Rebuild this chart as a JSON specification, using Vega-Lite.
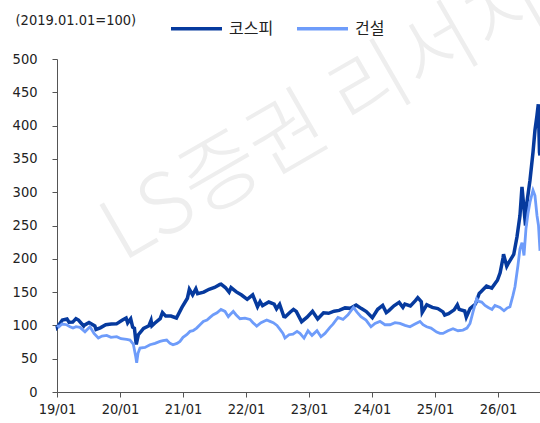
{
  "$schema": "https://vega.github.io/schema/vega-lite/v6.json",
  "width": 483,
  "height": 333,
  "autosize": {"type": "none"},
  "padding": {"left": 57, "top": 59, "right": 0, "bottom": 31},
  "config": {
    "view": {"stroke": null},
    "font": "DejaVu Sans Condensed, Liberation Sans",
    "axis": {"grid": false, "tickSize": 5, "labelFontSize": 14.5, "labelFlush": false, "labelOverlap": false, "domainColor": "#555555", "tickColor": "#555555", "labelColor": "#222222"}
  },
  "datasets": {
    "kospi": [
      {"t":2019.000,"v":100},{"t":2019.005,"v":97.7},{"t":2019.085,"v":108.0},{"t":2019.159,"v":109.5},{"t":2019.191,"v":104.7},
      {"t":2019.250,"v":104.9},{"t":2019.301,"v":110.1},{"t":2019.341,"v":108.0},{"t":2019.423,"v":99.1},{"t":2019.429,"v":100.0},
      {"t":2019.508,"v":104.4},{"t":2019.601,"v":99.2},{"t":2019.619,"v":93.9},{"t":2019.687,"v":96.4},{"t":2019.774,"v":101.1},
      {"t":2019.862,"v":102.1},{"t":2019.945,"v":102.3},{"t":2020.033,"v":107.7},{"t":2020.097,"v":111.1},{"t":2020.122,"v":103.8},
      {"t":2020.170,"v":109.9},{"t":2020.201,"v":97.4},{"t":2020.229,"v":95.8},{"t":2020.258,"v":71.4},{"t":2020.292,"v":86.0},
      {"t":2020.374,"v":95.4},{"t":2020.459,"v":99.5},{"t":2020.493,"v":107.5},{"t":2020.507,"v":99.5},{"t":2020.550,"v":103.3},
      {"t":2020.638,"v":110.2},{"t":2020.674,"v":119.4},{"t":2020.726,"v":114.0},{"t":2020.808,"v":114.0},{"t":2020.896,"v":111.1},
      {"t":2020.983,"v":127.0},{"t":2021.070,"v":140.8},{"t":2021.101,"v":154.2},{"t":2021.153,"v":145.8},{"t":2021.204,"v":155.0},
      {"t":2021.232,"v":147.6},{"t":2021.329,"v":150.0},{"t":2021.414,"v":154.2},{"t":2021.501,"v":157.0},{"t":2021.586,"v":161.5},
      {"t":2021.604,"v":161.9},{"t":2021.672,"v":156.9},{"t":2021.732,"v":149.9},{"t":2021.763,"v":156.7},{"t":2021.847,"v":150.3},
      {"t":2021.930,"v":145.6},{"t":2022.019,"v":139.1},{"t":2022.106,"v":145.9},{"t":2022.183,"v":128.1},{"t":2022.224,"v":135.8},
      {"t":2022.263,"v":129.7},{"t":2022.362,"v":135.1},{"t":2022.447,"v":132.0},{"t":2022.485,"v":124.9},{"t":2022.534,"v":131.6},
      {"t":2022.601,"v":113.4},{"t":2022.624,"v":112.9},{"t":2022.704,"v":120.1},{"t":2022.754,"v":124.1},{"t":2022.798,"v":121.1},
      {"t":2022.883,"v":105.6},{"t":2022.970,"v":112.3},{"t":2023.056,"v":121.1},{"t":2023.138,"v":109.6},{"t":2023.231,"v":118.8},
      {"t":2023.311,"v":118.2},{"t":2023.399,"v":121.4},{"t":2023.479,"v":122.5},{"t":2023.572,"v":126.3},{"t":2023.657,"v":125.6},
      {"t":2023.748,"v":130.7},{"t":2023.833,"v":125.2},{"t":2023.910,"v":120.8},{"t":2024.006,"v":111.6},{"t":2024.091,"v":124.2},
      {"t":2024.170,"v":130.1},{"t":2024.227,"v":119.4},{"t":2024.268,"v":122.3},{"t":2024.349,"v":129.4},{"t":2024.431,"v":134.6},
      {"t":2024.491,"v":127.0},{"t":2024.522,"v":131.9},{"t":2024.610,"v":129.2},{"t":2024.689,"v":137.1},{"t":2024.727,"v":141.6},
      {"t":2024.783,"v":135.7},{"t":2024.797,"v":119.6},{"t":2024.869,"v":131.0},{"t":2024.957,"v":127.0},{"t":2025.045,"v":125.2},
      {"t":2025.127,"v":120.3},{"t":2025.155,"v":115.6},{"t":2025.215,"v":117.5},{"t":2025.304,"v":123.3},{"t":2025.355,"v":130.9},
      {"t":2025.384,"v":124.1},{"t":2025.472,"v":121.6},{"t":2025.497,"v":112.3},{"t":2025.557,"v":125.2},{"t":2025.642,"v":132.1},
      {"t":2025.702,"v":148.0},{"t":2025.730,"v":150.5},{"t":2025.818,"v":159.0},{"t":2025.901,"v":156.1},{"t":2025.991,"v":167.8},
      {"t":2026.034,"v":179},{"t":2026.080,"v":201.2},{"t":2026.088,"v":206.8},{"t":2026.139,"v":188.8},{"t":2026.159,"v":192.4},
      {"t":2026.250,"v":206.5},{"t":2026.302,"v":233},{"t":2026.349,"v":265},{"t":2026.381,"v":308},{"t":2026.413,"v":275},
      {"t":2026.437,"v":250},{"t":2026.460,"v":285},{"t":2026.508,"v":318},{"t":2026.556,"v":360},{"t":2026.587,"v":393},
      {"t":2026.619,"v":415},{"t":2026.640,"v":432},{"t":2026.651,"v":390},{"t":2026.659,"v":360},{"t":2026.667,"v":355}
    ],
    "construction": [
      {"t":2019.000,"v":100},{"t":2019.032,"v":98},{"t":2019.079,"v":102},{"t":2019.154,"v":101},{"t":2019.206,"v":98},
      {"t":2019.254,"v":96},{"t":2019.302,"v":98},{"t":2019.365,"v":97},{"t":2019.444,"v":90.5},{"t":2019.492,"v":95},
      {"t":2019.524,"v":98},{"t":2019.587,"v":88},{"t":2019.656,"v":81},{"t":2019.714,"v":84},{"t":2019.789,"v":85},
      {"t":2019.857,"v":82},{"t":2019.948,"v":83},{"t":2020.016,"v":80},{"t":2020.106,"v":79},{"t":2020.159,"v":78},
      {"t":2020.211,"v":72},{"t":2020.246,"v":55},{"t":2020.265,"v":44},{"t":2020.286,"v":58},{"t":2020.317,"v":66},
      {"t":2020.397,"v":67},{"t":2020.476,"v":71},{"t":2020.556,"v":73},{"t":2020.635,"v":76},{"t":2020.683,"v":77},
      {"t":2020.741,"v":78},{"t":2020.794,"v":73},{"t":2020.841,"v":71},{"t":2020.905,"v":73},{"t":2020.952,"v":76},
      {"t":2021.000,"v":82},{"t":2021.059,"v":86},{"t":2021.111,"v":91},{"t":2021.159,"v":92},{"t":2021.217,"v":96},
      {"t":2021.270,"v":101},{"t":2021.322,"v":106},{"t":2021.381,"v":108},{"t":2021.429,"v":112},{"t":2021.481,"v":116},
      {"t":2021.540,"v":119},{"t":2021.603,"v":124},{"t":2021.667,"v":121},{"t":2021.719,"v":113},{"t":2021.746,"v":116},
      {"t":2021.798,"v":121},{"t":2021.841,"v":116},{"t":2021.905,"v":110},{"t":2021.984,"v":111},{"t":2022.063,"v":109},
      {"t":2022.111,"v":104},{"t":2022.170,"v":99},{"t":2022.238,"v":104},{"t":2022.329,"v":108},{"t":2022.381,"v":106},
      {"t":2022.433,"v":104},{"t":2022.492,"v":100},{"t":2022.540,"v":94},{"t":2022.587,"v":88},{"t":2022.619,"v":81},
      {"t":2022.683,"v":86},{"t":2022.746,"v":87},{"t":2022.810,"v":91},{"t":2022.857,"v":88},{"t":2022.921,"v":81},
      {"t":2022.984,"v":92},{"t":2023.048,"v":85},{"t":2023.127,"v":92},{"t":2023.190,"v":83},{"t":2023.254,"v":88},
      {"t":2023.333,"v":97},{"t":2023.381,"v":102},{"t":2023.460,"v":112},{"t":2023.540,"v":109},{"t":2023.619,"v":116},
      {"t":2023.706,"v":127},{"t":2023.762,"v":120},{"t":2023.825,"v":113},{"t":2023.905,"v":108},{"t":2023.984,"v":98},
      {"t":2024.048,"v":103},{"t":2024.127,"v":106},{"t":2024.206,"v":101},{"t":2024.286,"v":101},{"t":2024.365,"v":104},
      {"t":2024.444,"v":103},{"t":2024.524,"v":100},{"t":2024.603,"v":98},{"t":2024.683,"v":102},{"t":2024.762,"v":106},
      {"t":2024.810,"v":101},{"t":2024.868,"v":98},{"t":2024.937,"v":96},{"t":2025.027,"v":90},{"t":2025.079,"v":88},
      {"t":2025.127,"v":88},{"t":2025.206,"v":92},{"t":2025.286,"v":95},{"t":2025.365,"v":92},{"t":2025.444,"v":93},
      {"t":2025.508,"v":96},{"t":2025.556,"v":103},{"t":2025.603,"v":120},{"t":2025.662,"v":140},{"t":2025.698,"v":136},
      {"t":2025.741,"v":135},{"t":2025.794,"v":130},{"t":2025.846,"v":127},{"t":2025.905,"v":124},{"t":2025.952,"v":130},
      {"t":2026.032,"v":127},{"t":2026.095,"v":122},{"t":2026.143,"v":126},{"t":2026.190,"v":128},{"t":2026.238,"v":145},
      {"t":2026.270,"v":158},{"t":2026.317,"v":190},{"t":2026.349,"v":215},{"t":2026.381,"v":224},{"t":2026.413,"v":205},
      {"t":2026.444,"v":245},{"t":2026.476,"v":268},{"t":2026.508,"v":285},{"t":2026.556,"v":303},{"t":2026.587,"v":295},
      {"t":2026.619,"v":265},{"t":2026.643,"v":250},{"t":2026.667,"v":212}
    ],
    "watermark": [{"label": "LS증권 리서치"}]
  },
  "layer": [
    {
      "data": {"name": "watermark"},
      "mark": {"type": "text", "angle": -30, "fontSize": 84, "font": "Noto Sans CJK KR", "fontWeight": 300, "color": "#eeeeee", "align": "center", "baseline": "middle"},
      "encoding": {
        "x": {
          "datum": 2023.25, "type": "quantitative",
          "scale": {"domain": [2019, 2026.667], "nice": false, "zero": false},
          "axis": {"values": [2019,2020,2021,2022,2023,2024,2025,2026], "labelExpr": "slice(toString(datum.value), 2) + '/01'", "title": null, "labelPadding": 5}
        },
        "y": {
          "datum": 413, "type": "quantitative",
          "scale": {"domain": [0, 500], "nice": false},
          "axis": {"values": [0,50,100,150,200,250,300,350,400,450,500], "title": "(2019.01.01=100)", "titleAngle": 0, "titleAlign": "left", "titleBaseline": "middle", "titleX": -42, "titleY": -39, "titleFontSize": 14.5, "titleFontWeight": "normal", "titleColor": "#222222", "labelPadding": 15}
        },
        "text": {"field": "label"}
      }
    },
    {
      "data": {"name": "kospi"},
      "mark": {"type": "line", "strokeWidth": 3.5},
      "encoding": {
        "x": {
          "field": "t", "type": "quantitative",
          "scale": {"domain": [2019, 2026.667], "nice": false, "zero": false},
          "axis": {"values": [2019,2020,2021,2022,2023,2024,2025,2026], "labelExpr": "slice(toString(datum.value), 2) + '/01'", "title": null, "labelPadding": 5}
        },
        "y": {
          "field": "v", "type": "quantitative",
          "scale": {"domain": [0, 500], "nice": false},
          "axis": {"values": [0,50,100,150,200,250,300,350,400,450,500], "title": "(2019.01.01=100)", "titleAngle": 0, "titleAlign": "left", "titleBaseline": "middle", "titleX": -42, "titleY": -39, "titleFontSize": 14.5, "titleFontWeight": "normal", "titleColor": "#222222", "labelPadding": 15}
        },
        "color": {
          "datum": "코스피",
          "scale": {"domain": ["코스피", "건설"], "range": ["#063A9E", "#6E9CFA"]},
          "legend": {"orient": "none", "legendX": 112, "legendY": -58, "direction": "horizontal", "title": null, "symbolType": "stroke", "symbolSize": 2600, "symbolStrokeWidth": 3.5, "labelFont": "Noto Sans CJK KR", "labelFontSize": 16, "labelColor": "#222222", "labelOffset": 5, "columnPadding": 16}
        }
      }
    },
    {
      "data": {"name": "construction"},
      "mark": {"type": "line", "strokeWidth": 2.8},
      "encoding": {
        "x": {
          "field": "t", "type": "quantitative",
          "scale": {"domain": [2019, 2026.667], "nice": false, "zero": false},
          "axis": {"values": [2019,2020,2021,2022,2023,2024,2025,2026], "labelExpr": "slice(toString(datum.value), 2) + '/01'", "title": null, "labelPadding": 5}
        },
        "y": {
          "field": "v", "type": "quantitative",
          "scale": {"domain": [0, 500], "nice": false},
          "axis": {"values": [0,50,100,150,200,250,300,350,400,450,500], "title": "(2019.01.01=100)", "titleAngle": 0, "titleAlign": "left", "titleBaseline": "middle", "titleX": -42, "titleY": -39, "titleFontSize": 14.5, "titleFontWeight": "normal", "titleColor": "#222222", "labelPadding": 15}
        },
        "color": {"datum": "건설"}
      }
    }
  ]
}
